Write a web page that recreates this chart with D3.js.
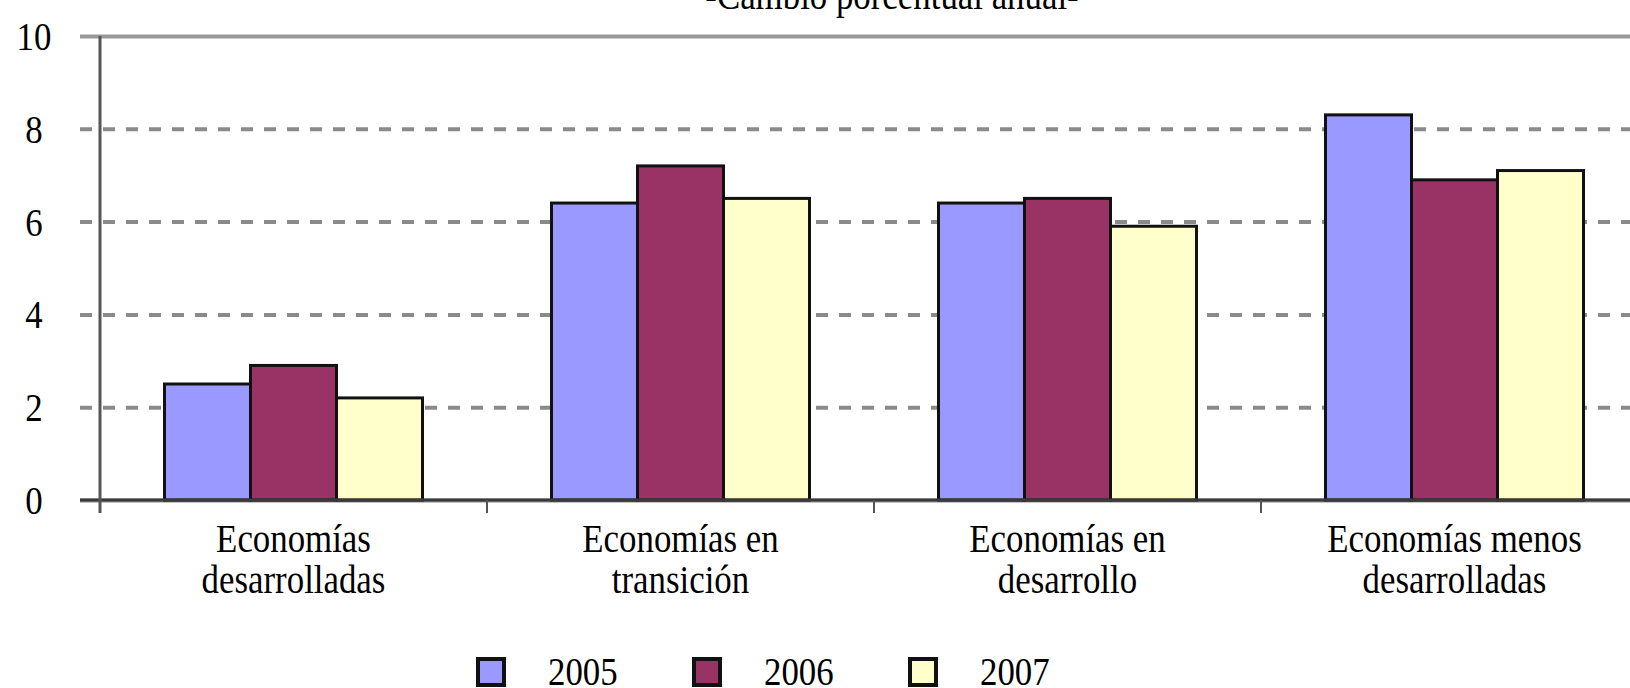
<!DOCTYPE html>
<html>
<head>
<meta charset="utf-8">
<script src="https://cdn.jsdelivr.net/npm/d3@7"></script>
<style>
  html, body { margin: 0; padding: 0; background: #fff; }
  text { font-family: 'Liberation Serif', 'Times New Roman', serif; fill: #000; }
</style>
</head>
<body>
<svg id="chart"></svg>
<script>
const title = '-Cambio porcentual anual-';
const categories = ['Economías desarrolladas', 'Economías en transición', 'Economías en desarrollo', 'Economías menos desarrolladas'];
const categoryLines = [['Economías', 'desarrolladas'], ['Economías en', 'transición'], ['Economías en', 'desarrollo'], ['Economías menos', 'desarrolladas']];
const years = ['2005', '2006', '2007'];
const values2005 = [2.5, 6.4, 6.4, 8.3];
const values2006 = [2.9, 7.2, 6.5, 6.9];
const values2007 = [2.2, 6.5, 5.9, 7.1];
const yTicks = [0, 2, 4, 6, 8, 10];
const colors = ['#9999ff', '#993366', '#ffffcc'];

const width = 1630;
const height = 688;
const fontSize = 41;
const squeeze = 0.85;

const seriesValues = [values2005, values2006, values2007];
const rows = categories.map((c, i) => ({
  category: c,
  bars: years.map((yr, j) => ({ year: yr, value: seriesValues[j][i] }))
}));

const svg = d3.select('#chart')
  .attr('width', width)
  .attr('height', height);

const x0 = d3.scaleBand()
  .domain(categories)
  .range([100, 1648])
  .paddingInner(1 / 3)
  .paddingOuter(1 / 6);

const x1 = d3.scaleBand()
  .domain(years)
  .range([0, x0.bandwidth()]);

const y = d3.scaleLinear()
  .domain([0, 10])
  .range([500, 36]);

const color = d3.scaleOrdinal(years, colors);

// gridlines (ticks extend left of the axis)
const grid = svg.append('g')
  .attr('transform', 'translate(80,0)')
  .call(d3.axisLeft(y).tickValues(yTicks).tickSize(-(width - 80)).tickFormat(''));
grid.select('.domain').remove();
grid.selectAll('.tick line')
  .attr('stroke', d => d === 10 ? '#999' : '#8a8a8a')
  .attr('stroke-width', d => d === 10 ? 4 : 4)
  .attr('stroke-dasharray', d => (d === 0 || d === 10) ? null : '12,11');

// y tick labels
svg.append('g')
  .selectAll('text')
  .data(yTicks)
  .join('text')
  .attr('transform', d => `translate(34,${y(d) + 14}) scale(${squeeze},1)`)
  .attr('text-anchor', 'middle')
  .attr('font-size', fontSize)
  .text(d => d);

// bars
const groups = svg.append('g')
  .selectAll('g')
  .data(rows)
  .join('g')
  .attr('transform', d => `translate(${x0(d.category)},0)`);

groups.selectAll('rect')
  .data(d => d.bars)
  .join('rect')
  .attr('x', d => x1(d.year))
  .attr('y', d => y(d.value))
  .attr('width', x1.bandwidth())
  .attr('height', d => y(0) - y(d.value))
  .attr('fill', d => color(d.year))
  .attr('stroke', '#111')
  .attr('stroke-width', 3);

// zero line
svg.append('line')
  .attr('x1', 80).attr('x2', width)
  .attr('y1', y(0)).attr('y2', y(0))
  .attr('stroke', '#3a3a3a')
  .attr('stroke-width', 3);

// y axis line
svg.append('line')
  .attr('x1', 100).attr('x2', 100)
  .attr('y1', y(10)).attr('y2', y(0) + 13)
  .attr('stroke', '#555')
  .attr('stroke-width', 3);

// category separators
svg.append('g')
  .selectAll('line')
  .data(d3.range(1, categories.length + 1))
  .join('line')
  .attr('x1', i => x0.range()[0] + i * x0.step())
  .attr('x2', i => x0.range()[0] + i * x0.step())
  .attr('y1', y(0))
  .attr('y2', y(0) + 13)
  .attr('stroke', '#555')
  .attr('stroke-width', 2);

// category labels
const labels = svg.append('g')
  .selectAll('g')
  .data(categories)
  .join('g')
  .attr('transform', d => `translate(${x0(d) + x0.bandwidth() / 2},0)`);

labels.selectAll('text')
  .data((d, i) => categoryLines[i])
  .join('text')
  .attr('transform', (d, i) => `translate(0,${552 + i * 41}) scale(${squeeze},1)`)
  .attr('text-anchor', 'middle')
  .attr('font-size', fontSize)
  .text(d => d);

// title (cut at the top edge)
svg.append('text')
  .attr('transform', `translate(892,9) scale(${squeeze},1)`)
  .attr('text-anchor', 'middle')
  .attr('font-size', fontSize)
  .text(title);

// legend
const legendX = d3.scaleBand()
  .domain(years)
  .range([476, 476 + 3 * 216]);

const legend = svg.append('g')
  .selectAll('g')
  .data(years)
  .join('g')
  .attr('transform', d => `translate(${legendX(d)},657)`);

legend.append('rect')
  .attr('x', 2).attr('y', 2)
  .attr('width', 26).attr('height', 26)
  .attr('fill', d => color(d))
  .attr('stroke', '#111')
  .attr('stroke-width', 4);

legend.append('text')
  .attr('transform', `translate(72,28) scale(${squeeze},1)`)
  .attr('font-size', fontSize)
  .text(d => d);
</script>
</body>
</html>
